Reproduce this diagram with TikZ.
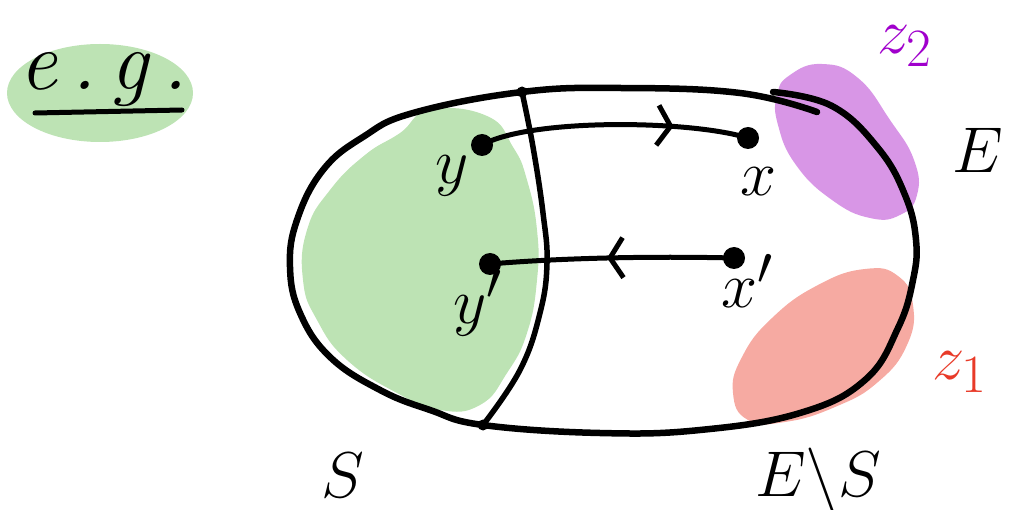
\documentclass[tikz,border=0pt]{standalone}
\usepackage{amsmath,amssymb}
\usepackage{tikz}
\usetikzlibrary{arrows.meta,decorations.markings}
\usepackage{xcolor}
\definecolor{sgreen}{HTML}{BDE3B4}
\definecolor{zlilac}{HTML}{D896E6}
\definecolor{zsalmon}{HTML}{F6AAA2}
\definecolor{zviolet}{HTML}{A000CC}
\definecolor{zred}{HTML}{E83A28}

\begin{document}
\begin{tikzpicture}[x=1pt,y=-1pt,line cap=round,line join=round,font=\Huge,
  dot/.style={circle,fill,inner sep=0pt,minimum size=22pt},
  lbl/.style={inner sep=0pt,scale=2.6},
  midarrow/.style={postaction={decorate},decoration={markings,
    mark=at position #1 with {\arrow{Straight Barb[length=13pt,width=40pt]}}}}]
\useasboundingbox (0,0) rectangle (1024,510);
\fill[sgreen] (100,93) ellipse[x radius=93,y radius=49];
\fill[sgreen] plot[smooth cycle,tension=0.8] coordinates {(430,110) (487,116) (513,147) (527,180) (537,230) (537,280) (527,333) (507,373) (480,405) (440,410) (397,393) (347,360) (317,320) (303,280) (307,230) (330,190) (365,155) (400,133)};
\fill[zlilac] plot[smooth cycle,tension=0.8] coordinates {(790,75) (822,64) (858,78) (890,120) (914,160) (917,195) (900,215) (870,218) (832,200) (796,165) (778,125) (777,95)};
\fill[zsalmon] plot[smooth cycle,tension=0.8] coordinates {(865,269) (898,276) (913,305) (907,345) (878,382) (835,407) (785,422) (748,420) (733,393) (742,357) (772,318) (818,285)};
\draw[line width=6.5pt] plot[smooth,tension=0.7] coordinates {(773,92) (832,106) (878,148) (905,195) (916,240) (913,280) (898,328) (865,380) (800,413) (700,430) (600,433) (483,425) (430,410) (380,390) (330,357) (300,313) (290,267) (297,220) (323,170) (363,137) (413,113) (522,92) (620,88) (740,93) (817,112)};
\coordinate (ptop) at (522,92);
\coordinate (pbot) at (483,425);
\draw[line width=5.5pt] plot[smooth,tension=0.7] coordinates {(ptop) (533,147) (543,213) (547,263) (540,313) (520,370) (pbot)};
\fill (ptop) circle (5.5pt) (pbot) circle (5.5pt);
\node[dot] (y) at (482,145) {};
\node[dot] (x) at (748,138) {};
\node[dot] (y') at (490,264) {};
\node[dot] (x') at (734,258) {};
\draw[line width=5pt,midarrow=0.72] (y.center) .. controls (530,118) and (690,120) .. (x.center);
\draw[line width=5pt,midarrow=0.52] (x'.center) .. controls (650,256) and (560,258) .. (y'.center);
\node[lbl] (ly) at (452,176) {$y$};
\node[lbl] (lx) at (758,182) {$x$};
\node[lbl] (ly') at (478,303) {$y'$};
\node[lbl] (lx') at (748,281) {$x'$};
\node[lbl] (lE) at (978,150) {$E$};
\node[lbl] (lS) at (343,475) {$S$};
\node[lbl] (lES) at (818,480) {$E\backslash S$};
\node[lbl,text=zviolet] (lz2) at (905,46) {$z_2$};
\node[lbl,text=zred] (lz1) at (960,372) {$z_1$};
\node[lbl,scale=1.3] (eg) at (104,80) {\textit{e\,.\,g\,.}};
\draw[line width=5pt] (35,113) -- (182,110);
\end{tikzpicture}
\end{document}
